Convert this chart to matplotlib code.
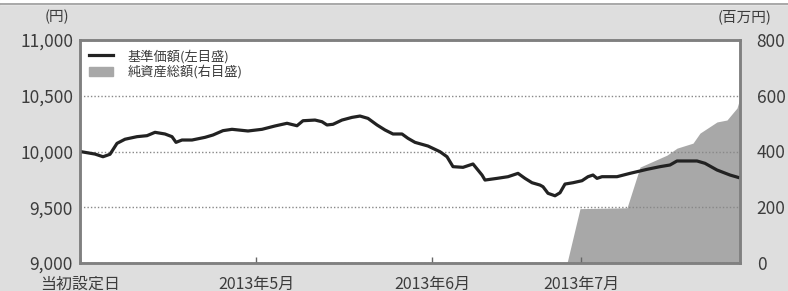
import numpy as np
import matplotlib.pyplot as plt
from matplotlib.patches import Patch
from matplotlib.lines import Line2D

plt.rcParams['font.family'] = ['Noto Sans CJK JP', 'DejaVu Sans']

# ---------------------------------------------------------------
# Data (x = business-day index from launch date)
# ---------------------------------------------------------------
nav_x = [0, 3, 4.6, 6, 7.4, 9, 11.4, 13.4, 15, 17, 18.4, 19.2, 20.4, 22.4, 25,
         26.6, 28.6, 30.4, 33.6, 36.4, 39, 41.4, 43.4, 44.6, 47, 48.4, 49.4,
         50.6, 52.4, 54.4, 56, 57.6, 59.4, 61, 62.6, 64.4, 65.6, 67, 69.6, 72,
         73.4, 74.6, 76.6, 78.6, 80.4, 81, 83.4, 85.6, 87.6, 89, 90.4, 92, 92.6,
         93.6, 95, 96, 97, 98.6, 100.4, 101.6, 102.6, 103.4, 104.4, 107.4, 110,
         113.4, 116, 118, 119.4, 123.4, 125, 127.4, 130, 131.6]
nav = [10000, 9977, 9953, 9975, 10073, 10110, 10133, 10142, 10172, 10157,
       10133, 10082, 10103, 10103, 10127, 10148, 10187, 10199, 10184, 10199,
       10229, 10253, 10231, 10276, 10282, 10267, 10238, 10244, 10282, 10306,
       10318, 10297, 10238, 10193, 10157, 10157, 10118, 10082, 10049, 9998,
       9953, 9864, 9858, 9888, 9789, 9744, 9759, 9774, 9804, 9759, 9720, 9699,
       9684, 9625, 9603, 9630, 9708, 9720, 9738, 9774, 9789, 9759, 9774, 9774,
       9804, 9840, 9864, 9879, 9915, 9915, 9894, 9834, 9789, 9768]

aum_x = [0, 97.4, 100, 109.4, 112, 117.4, 119.4, 122.6, 124, 127.4, 129.4, 131.4, 132]
aum = [0, 0, 195, 198, 344, 387, 412, 430, 466, 506, 513, 556, 592]

tick_pos = [0, 35.2, 70.4, 100.2]
tick_labels = ['当初設定日', '2013年5月', '2013年6月', '2013年7月']
left_ticks = [9000, 9500, 10000, 10500, 11000]
left_labels = ['9,000', '9,500', '10,000', '10,500', '11,000']
right_ticks = [0, 200, 400, 600, 800]

# ---------------------------------------------------------------
# Plot
# ---------------------------------------------------------------
bg = '#dedede'
txt = '#3c3c3c'
fig = plt.figure(figsize=(7.88, 2.91), dpi=100, facecolor=bg)
ax = fig.add_axes([80/788, 1-263/291, 660/788, 223/291])
ax2 = ax.twinx()
ax.set_zorder(ax2.get_zorder() + 1)
ax.patch.set_visible(False)
ax2.patch.set_visible(True)
ax2.patch.set_facecolor('white')

ax2.fill_between(aum_x, aum, 0, color='#a8a8a8', lw=0)
ax.plot(nav_x, nav, color='#222222', lw=2.3, solid_joinstyle='round')

ax.set_xlim(0, 132)
ax.set_ylim(9000, 11000)
ax2.set_ylim(0, 800)

ax.set_yticks(left_ticks)
ax.set_yticklabels(left_labels)
ax2.set_yticks(right_ticks)
ax.set_xticks(tick_pos)
ax.set_xticklabels(tick_labels)
ax.tick_params(axis='y', length=0, pad=5, labelsize=12.5, labelcolor=txt)
ax2.tick_params(axis='y', length=0, pad=12, labelsize=12.5, labelcolor=txt)
ax.tick_params(axis='x', direction='in', length=4, width=1, color='#666666',
               pad=9, labelsize=11.5, labelcolor=txt)

for a in (ax, ax2):
    for s in a.spines.values():
        s.set_color('#808080')
        s.set_linewidth(1.8)

ax.grid(axis='y', color='#888888', ls=(0, (1, 1.5)), lw=1)

fig.text(57/788, 1-17/291, '(円)', ha='center', va='center', fontsize=10.5, color=txt)
fig.text(745/788, 1-17/291, '(百万円)', ha='center', va='center', fontsize=10.5, color=txt)

handles = [Line2D([], [], color='#222222', lw=2.3),
           Patch(color='#a8a8a8')]
ax.legend(handles, ['基準価額(左目盛)', '純資産総額(右目盛)'], loc='upper left',
          frameon=False, fontsize=9.5, labelcolor=txt, handlelength=1.8,
          handletextpad=1.1, labelspacing=0.15, borderaxespad=0.3)

# white strip at top of the panel
fig.patches.append(plt.Rectangle((0, 1-4/291), 1, 4/291, transform=fig.transFigure,
                                 color='white', zorder=0))
fig.lines.append(Line2D([0, 1], [1-4/291, 1-4/291], transform=fig.transFigure,
                        color='#999999', lw=1.2))

fig.savefig('out.png', dpi=100, facecolor=bg)
